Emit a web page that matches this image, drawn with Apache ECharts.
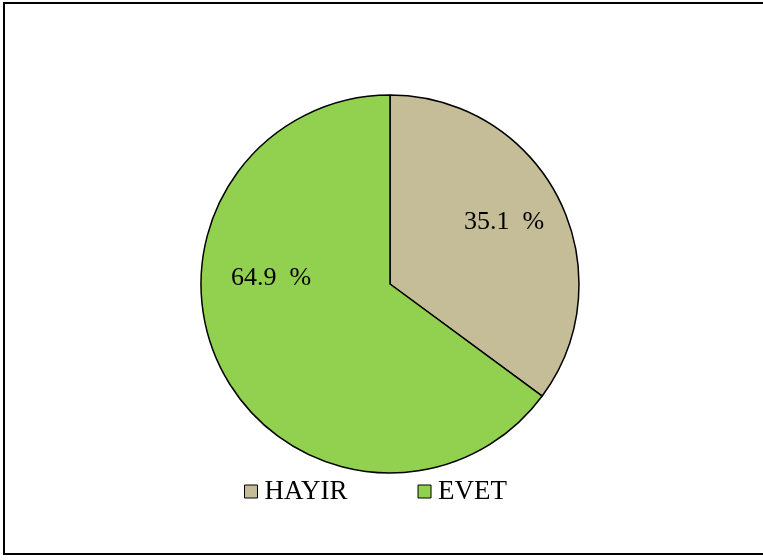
<!DOCTYPE html>
<html>
<head>
<meta charset="utf-8">
<script src="https://cdn.jsdelivr.net/npm/echarts@6/dist/echarts.min.js"></script>
<style>
    html, body { margin: 0; padding: 0; background: #fff; }
    #frame {
        position: absolute; left: 3px; top: 2px;
        width: 770px; height: 553px;
        border: 2px solid #000; box-sizing: border-box;
    }
    #main { position: absolute; left: 0; top: 0; width: 763px; height: 560px; }
</style>
</head>
<body>
<div id="frame"></div>
<div id="main"></div>
<script>
// 数据
var categories = ['HAYIR', 'EVET'];
var values = [35.1, 64.9];
var colors = ['#C4BD97', '#92D050'];
// 标签偏移（Excel 的放置位置和 ECharts 的 inside 不一样）
var labelOffsets = [[27, -18], [-32, -50]];

var myChart = echarts.init(document.getElementById('main'));

var pieData = categories.map(function (name, i) {
    return {
        name: name,
        value: values[i],
        itemStyle: { color: colors[i] },
        label: { offset: labelOffsets[i] }
    };
});

myChart.setOption({
    backgroundColor: 'transparent',
    animation: false,
    legend: {
        data: categories,
        top: 473,
        left: 239,
        itemWidth: 13,
        itemHeight: 13,
        itemGap: 70,
        icon: 'rect',
        itemStyle: { borderColor: '#000', borderWidth: 1 },
        textStyle: {
            fontFamily: 'Liberation Serif',
            fontSize: 27,
            color: '#000',
            padding: [0, 0, 0, 2]
        }
    },
    series: [{
        type: 'pie',
        center: [390, 284],
        radius: 189,
        startAngle: 90,
        clockwise: true,
        silent: true,
        itemStyle: { borderColor: '#000', borderWidth: 1.5 },
        label: {
            show: true,
            position: 'inside',
            formatter: function (p) { return p.value.toFixed(1) + '  %'; },
            fontFamily: 'Liberation Serif',
            fontSize: 26,
            color: '#000'
        },
        labelLine: { show: false },
        data: pieData
    }]
});
</script>
</body>
</html>
